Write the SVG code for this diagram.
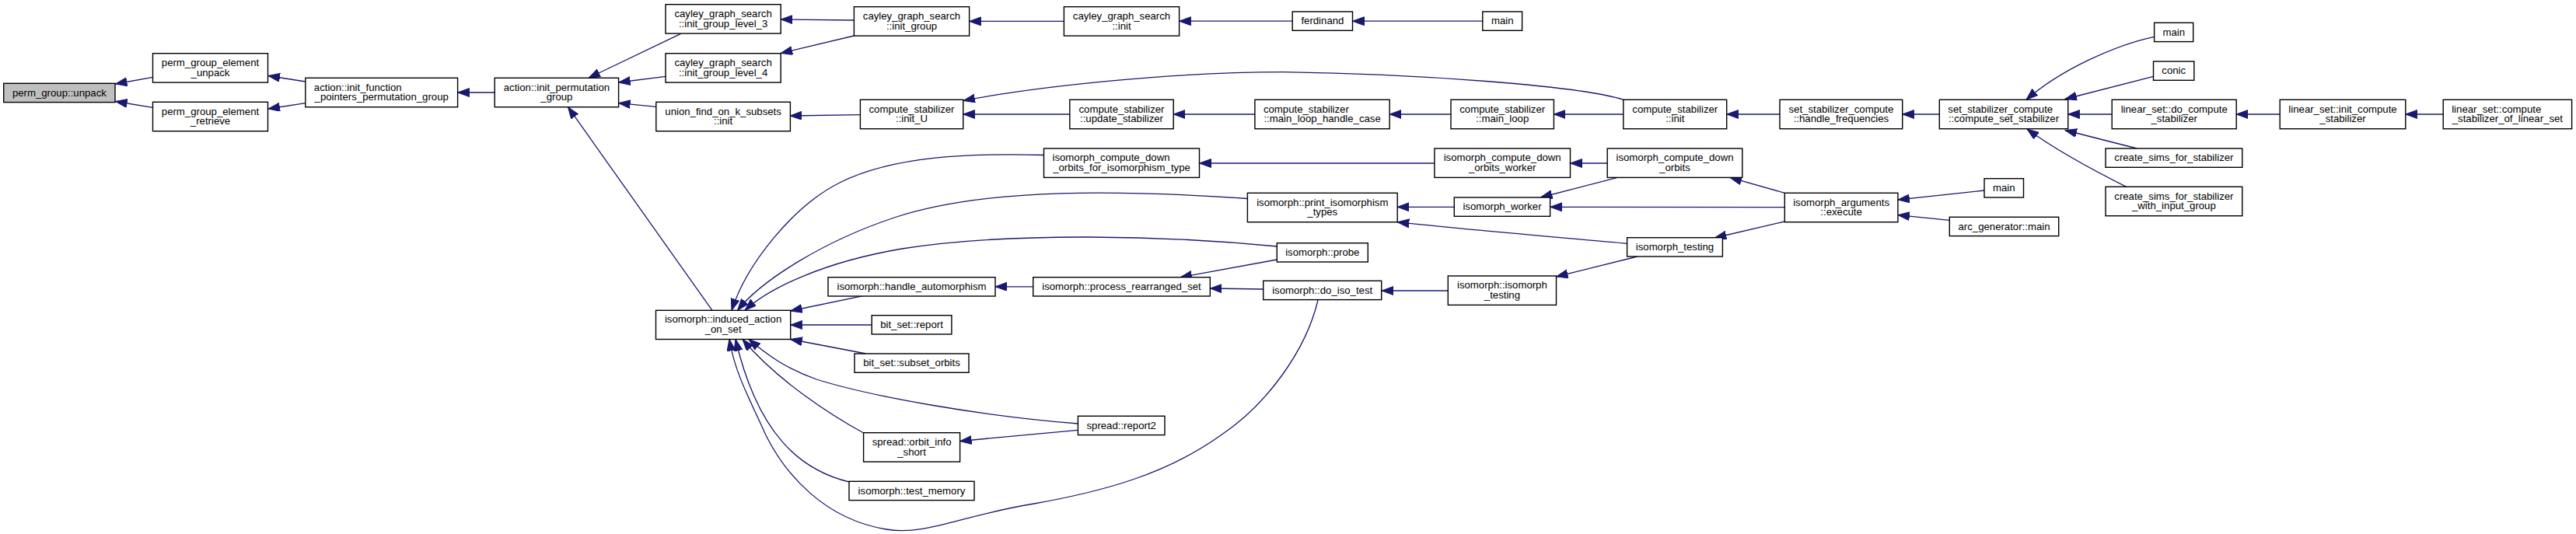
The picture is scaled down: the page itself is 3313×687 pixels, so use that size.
<svg xmlns="http://www.w3.org/2000/svg" width="3313" height="687" viewBox="0 0 3313 687">
<style>
.node rect{fill:#fff;stroke:#000;stroke-width:1.4}
.root rect{fill:#bfbfbf}
text{font-family:"Liberation Sans",Arial,Helvetica,sans-serif;font-size:13.2px;fill:#000}
.c{text-anchor:middle}
.s{text-anchor:start}
.edges path{fill:none;stroke:#191970;stroke-width:1.3;marker-end:url(#ah)}
</style>
<defs>
<marker id="ah" markerUnits="userSpaceOnUse" markerWidth="16" markerHeight="12" refX="15" refY="5.5" orient="auto"><path d="M0,0 L15,5.5 L0,11 z" fill="#191970" stroke="#191970" stroke-width="1"/></marker>
</defs>
<rect width="3313" height="687" fill="#fff"/>
<g class="edges" id="edges">
<path d="M196.5,99.3 L148.5,108"/>
<path d="M196.5,138.3 L148.5,130.5"/>
<path d="M392.8,105 L345,97.5"/>
<path d="M392.8,132.7 L345,140"/>
<path d="M636.2,119 L588.6,119"/>
<path d="M875.6,43.3 L757,100.3"/>
<path d="M856,98.3 L795.6,106"/>
<path d="M843.8,137.3 L795.6,132.7"/>
<path d="M916,399.3 L730.5,137.7"/>
<path d="M1098.4,26 L1004.2,25"/>
<path d="M1098.4,46 L1004.2,68.5"/>
<path d="M1368.4,27.4 L1246.6,27.4"/>
<path d="M1662.2,27.2 L1516.6,27.2"/>
<path d="M1906.8,27.2 L1739.5,27.2"/>
<path d="M1106.4,147.7 L1016.4,149"/>
<path d="M1375.8,147 L1238.7,147"/>
<path d="M2088,128.3 C2030,110 1820,95 1650,92.7 C1500,93 1330,112 1239,129.5"/>
<path d="M1613.9,147 L1509.2,147"/>
<path d="M1866,147 L1787.2,147"/>
<path d="M2087.8,147 L1998.4,147"/>
<path d="M2289,147 L2220.7,147"/>
<path d="M2494.3,147 L2446.7,147"/>
<path d="M2770.6,47.3 C2720,58 2650,90 2606,128.3"/>
<path d="M2769.5,98.3 L2656,127.5"/>
<path d="M2716.2,147 L2659.7,147"/>
<path d="M2932.2,147 L2876.2,147"/>
<path d="M3142.2,147 L3093.8,147"/>
<path d="M2748.3,191 L2656,167.5"/>
<path d="M2734.7,240.3 C2690,218 2640,190 2607,166"/>
<path d="M1342.5,199.5 C1250,197 1150,200 1080,235 C1020,265 960,340 941,399.3"/>
<path d="M1604.4,255.5 C1450,245 1270,240 1150,280 C1060,310 980,360 948.5,399.3"/>
<path d="M1642.3,317 C1500,303 1300,298 1160,320 C1060,337 990,370 958,399.3"/>
<path d="M1111,380.3 L1016.7,400"/>
<path d="M1121.2,418 L1016.7,418"/>
<path d="M1113.8,455 L1016.7,436.5"/>
<path d="M1386.4,545 C1260,535 1120,510 1050,488 C1010,474 985,455 963,436.5"/>
<path d="M1110.6,557 C1070,535 1000,490 955,436.5"/>
<path d="M1386.4,553.3 L1234.6,567.5"/>
<path d="M1092,620 C1030,605 975,560 946,436.5"/>
<path d="M1695,386 C1680,450 1630,520 1570,560 C1500,610 1420,632 1330,648 C1240,662 1190,690 1140,681 C1060,668 1010,610 985,560 C965,515 945,480 938,436.5"/>
<path d="M1328.7,368.8 L1280,368.8"/>
<path d="M1642.3,334 L1518,356.7"/>
<path d="M1624.7,372 L1556.3,371"/>
<path d="M1862.3,374 L1777,374"/>
<path d="M2105.8,330 L2001.5,356"/>
<path d="M2092.6,313.3 C2000,305 1880,295 1797.2,285.7"/>
<path d="M2295.3,285 L2205.3,306"/>
<path d="M2295.3,266.7 L1993.6,266.3"/>
<path d="M2295.3,248.3 L2225,228.4"/>
<path d="M2079.4,228.7 L1981.4,254"/>
<path d="M2067.2,210 L2019.5,210"/>
<path d="M1844.9,210 L1542.5,210"/>
<path d="M1870.3,266.3 L1797.2,266.3"/>
<path d="M2552,245 L2440.9,257"/>
<path d="M2507.3,283.3 L2440.9,276.7"/>
</g>
<g id="n1" class="node root"><rect x="4.7" y="107.3" width="143.3" height="24.3"/><text class="c" x="76.4" y="123.5">perm_group::unpack</text></g>
<g id="n2" class="node"><rect x="196.5" y="68.7" width="148" height="37.4"/><text class="c" x="270.5" y="84.9">perm_group_element</text><text class="c" x="270.5" y="97.6">_unpack</text></g>
<g id="n3" class="node"><rect x="196.5" y="131.3" width="148" height="37.4"/><text class="c" x="270.5" y="147.5">perm_group_element</text><text class="c" x="270.5" y="160.2">_retrieve</text></g>
<g id="n4" class="node"><rect x="392.8" y="100.3" width="195.8" height="37.4"/><text class="s" x="403.8" y="116.5">action::init_function</text><text class="c" x="490.7" y="129.2">_pointers_permutation_group</text></g>
<g id="n5" class="node"><rect x="636.2" y="100.3" width="159.4" height="37.4"/><text class="c" x="715.9" y="116.5">action::init_permutation</text><text class="c" x="715.9" y="129.2">_group</text></g>
<g id="n6" class="node"><rect x="856" y="5.7" width="148.2" height="37.4"/><text class="c" x="930.1" y="21.9">cayley_graph_search</text><text class="c" x="930.1" y="34.6">::init_group_level_3</text></g>
<g id="n7" class="node"><rect x="856" y="68.7" width="148.2" height="37.4"/><text class="c" x="930.1" y="84.9">cayley_graph_search</text><text class="c" x="930.1" y="97.6">::init_group_level_4</text></g>
<g id="n8" class="node"><rect x="843.8" y="131.3" width="172.6" height="37.4"/><text class="c" x="930.1" y="147.5">union_find_on_k_subsets</text><text class="c" x="930.1" y="160.2">::init</text></g>
<g id="n9" class="node"><rect x="843.5" y="399.3" width="173.2" height="37.2"/><text class="c" x="930.1" y="415.4">isomorph::induced_action</text><text class="c" x="930.1" y="428.1">_on_set</text></g>
<g id="n10" class="node"><rect x="1098.4" y="8.7" width="148.2" height="37.4"/><text class="c" x="1172.5" y="24.9">cayley_graph_search</text><text class="c" x="1172.5" y="37.6">::init_group</text></g>
<g id="n11" class="node"><rect x="1106.4" y="128.3" width="132.3" height="37.4"/><text class="c" x="1172.5" y="144.5">compute_stabilizer</text><text class="c" x="1172.5" y="157.2">::init_U</text></g>
<g id="n12" class="node"><rect x="1342.5" y="191" width="200" height="37.4"/><text class="s" x="1353.5" y="207.2">isomorph_compute_down</text><text class="c" x="1442.5" y="219.9">_orbits_for_isomorphism_type</text></g>
<g id="n13" class="node"><rect x="1604.4" y="248.3" width="192.8" height="37.4"/><text class="c" x="1700.8" y="264.5">isomorph::print_isomorphism</text><text class="c" x="1700.8" y="277.2">_types</text></g>
<g id="n14" class="node"><rect x="1065" y="356.7" width="215" height="24.3"/><text class="c" x="1172.5" y="372.9">isomorph::handle_automorphism</text></g>
<g id="n15" class="node"><rect x="1121.2" y="405.7" width="102.7" height="24.3"/><text class="c" x="1172.5" y="421.9">bit_set::report</text></g>
<g id="n16" class="node"><rect x="1099" y="455" width="147" height="24.3"/><text class="c" x="1172.5" y="471.2">bit_set::subset_orbits</text></g>
<g id="n17" class="node"><rect x="1386.4" y="535.3" width="111.6" height="24.3"/><text class="c" x="1442.2" y="551.5">spread::report2</text></g>
<g id="n18" class="node"><rect x="1110.6" y="556.7" width="124" height="37.4"/><text class="c" x="1172.6" y="572.9">spread::orbit_info</text><text class="c" x="1172.6" y="585.6">_short</text></g>
<g id="n19" class="node"><rect x="1092" y="619.3" width="161" height="24.3"/><text class="c" x="1172.5" y="635.5">isomorph::test_memory</text></g>
<g id="n20" class="node"><rect x="1368.4" y="8.7" width="148.2" height="37.4"/><text class="c" x="1442.5" y="24.9">cayley_graph_search</text><text class="c" x="1442.5" y="37.6">::init</text></g>
<g id="n21" class="node"><rect x="1662.2" y="15" width="77.3" height="24.3"/><text class="c" x="1700.9" y="31.2">ferdinand</text></g>
<g id="n22" class="node"><rect x="1906.8" y="15" width="50.8" height="24.3"/><text class="c" x="1932.2" y="31.2">main</text></g>
<g id="n23" class="node"><rect x="1375.8" y="128.3" width="133.4" height="37.4"/><text class="c" x="1442.5" y="144.5">compute_stabilizer</text><text class="c" x="1442.5" y="157.2">::update_stabilizer</text></g>
<g id="n24" class="node"><rect x="1613.9" y="128.3" width="173.3" height="37.4"/><text class="s" x="1624.9" y="144.5">compute_stabilizer</text><text class="c" x="1700.6" y="157.2">::main_loop_handle_case</text></g>
<g id="n25" class="node"><rect x="1866" y="128.3" width="132.4" height="37.4"/><text class="c" x="1932.2" y="144.5">compute_stabilizer</text><text class="c" x="1932.2" y="157.2">::main_loop</text></g>
<g id="n26" class="node"><rect x="2087.8" y="128.3" width="132.9" height="37.4"/><text class="c" x="2154.3" y="144.5">compute_stabilizer</text><text class="c" x="2154.3" y="157.2">::init</text></g>
<g id="n27" class="node"><rect x="2289" y="128.3" width="157.7" height="37.4"/><text class="c" x="2367.9" y="144.5">set_stabilizer_compute</text><text class="c" x="2367.9" y="157.2">::handle_frequencies</text></g>
<g id="n28" class="node"><rect x="2494.3" y="128.3" width="165.4" height="37.4"/><text class="s" x="2505.3" y="144.5">set_stabilizer_compute</text><text class="c" x="2577" y="157.2">::compute_set_stabilizer</text></g>
<g id="n29" class="node"><rect x="2770.6" y="29.3" width="50.1" height="24.3"/><text class="c" x="2795.7" y="45.5">main</text></g>
<g id="n30" class="node"><rect x="2769.5" y="79" width="52.3" height="24.3"/><text class="c" x="2795.7" y="95.2">conic</text></g>
<g id="n31" class="node"><rect x="2716.2" y="128.3" width="160" height="37.4"/><text class="c" x="2796.2" y="144.5">linear_set::do_compute</text><text class="c" x="2796.2" y="157.2">_stabilizer</text></g>
<g id="n32" class="node"><rect x="2932.2" y="128.3" width="161.6" height="37.4"/><text class="c" x="3013" y="144.5">linear_set::init_compute</text><text class="c" x="3013" y="157.2">_stabilizer</text></g>
<g id="n33" class="node"><rect x="3142.2" y="128.3" width="165.4" height="37.4"/><text class="s" x="3153.2" y="144.5">linear_set::compute</text><text class="c" x="3224.9" y="157.2">_stabilizer_of_linear_set</text></g>
<g id="n34" class="node"><rect x="2708" y="191" width="175.8" height="24.3"/><text class="c" x="2795.9" y="207.2">create_sims_for_stabilizer</text></g>
<g id="n35" class="node"><rect x="2708" y="240.3" width="175.8" height="37.4"/><text class="c" x="2795.9" y="256.5">create_sims_for_stabilizer</text><text class="c" x="2795.9" y="269.2">_with_input_group</text></g>
<g id="n36" class="node"><rect x="1328.7" y="356.7" width="227.6" height="24.3"/><text class="c" x="1442.5" y="372.9">isomorph::process_rearranged_set</text></g>
<g id="n37" class="node"><rect x="1642.3" y="312.7" width="117" height="24.3"/><text class="c" x="1700.8" y="328.9">isomorph::probe</text></g>
<g id="n38" class="node"><rect x="1624.7" y="361.3" width="152" height="24.3"/><text class="c" x="1700.7" y="377.5">isomorph::do_iso_test</text></g>
<g id="n39" class="node"><rect x="1862.3" y="355" width="139.2" height="37.4"/><text class="c" x="1931.9" y="371.2">isomorph::isomorph</text><text class="c" x="1931.9" y="383.9">_testing</text></g>
<g id="n40" class="node"><rect x="2092.6" y="305.7" width="122.8" height="24.3"/><text class="c" x="2154" y="321.9">isomorph_testing</text></g>
<g id="n41" class="node"><rect x="1844.9" y="191" width="174.6" height="37.4"/><text class="c" x="1932.2" y="207.2">isomorph_compute_down</text><text class="c" x="1932.2" y="219.9">_orbits_worker</text></g>
<g id="n42" class="node"><rect x="2067.2" y="191" width="173.6" height="37.4"/><text class="c" x="2154" y="207.2">isomorph_compute_down</text><text class="c" x="2154" y="219.9">_orbits</text></g>
<g id="n43" class="node"><rect x="1870.3" y="254" width="123.3" height="24.3"/><text class="c" x="1932" y="270.2">isomorph_worker</text></g>
<g id="n44" class="node"><rect x="2295.3" y="248.3" width="145.6" height="37.4"/><text class="c" x="2368.1" y="264.5">isomorph_arguments</text><text class="c" x="2368.1" y="277.2">::execute</text></g>
<g id="n45" class="node"><rect x="2552" y="229.7" width="50.5" height="24.3"/><text class="c" x="2577.3" y="245.9">main</text></g>
<g id="n46" class="node"><rect x="2507.3" y="279.3" width="140.4" height="24.3"/><text class="c" x="2577.5" y="295.5">arc_generator::main</text></g>
</svg>
